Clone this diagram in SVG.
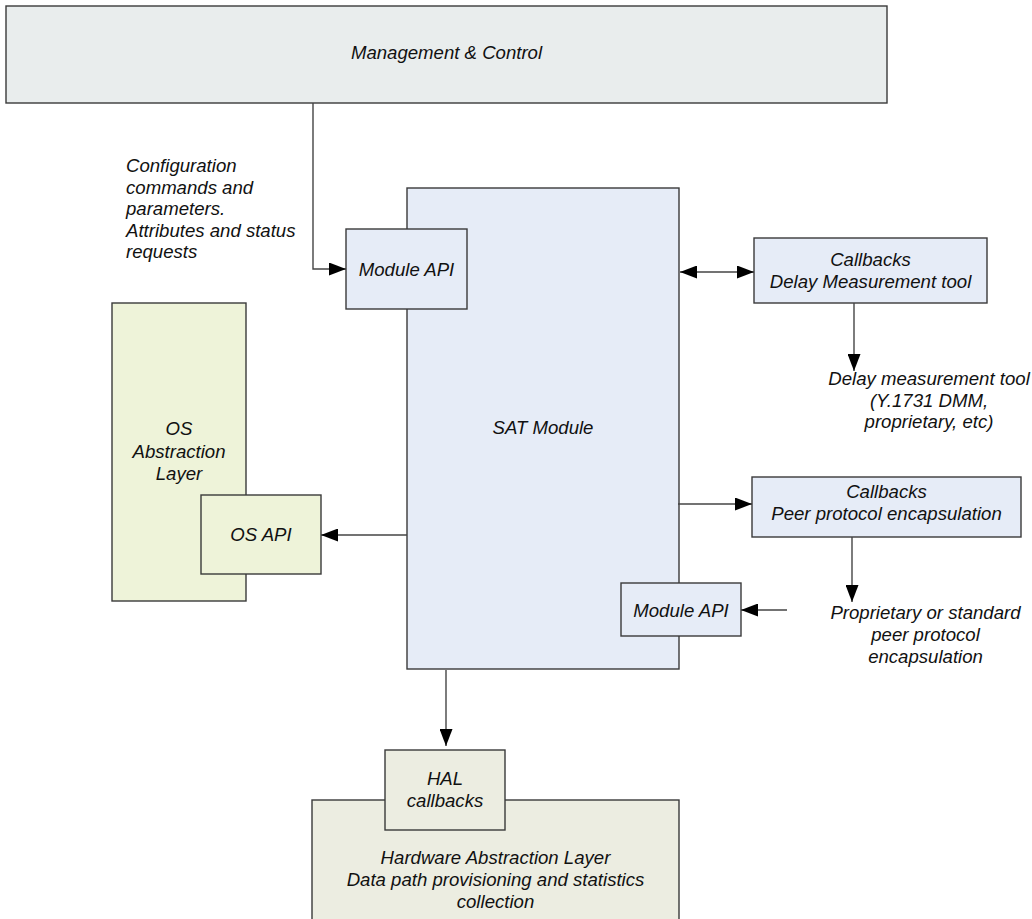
<svg xmlns="http://www.w3.org/2000/svg" width="1032" height="919" viewBox="0 0 1032 919">
<defs>
<marker id="arr" markerUnits="userSpaceOnUse" markerWidth="17" markerHeight="13" refX="17" refY="6.5" orient="auto-start-reverse" viewBox="0 0 17 13">
<path d="M0,0 L17,6.5 L0,13 z" fill="#000"/>
</marker>
</defs>
<style>
.box{stroke:#3a3a3a;stroke-width:1.4}
.mgmt{fill:#e9eded}
.blue{fill:#e6ecf7}
.green{fill:#eef3d9}
.hal{fill:#ecede1}
text{font-family:"Liberation Sans",Arial,sans-serif;font-style:italic;font-size:18.6px;fill:#111}
.c{text-anchor:middle}
.conn{fill:none;stroke:#454545;stroke-width:1.4}
</style>
<rect width="1032" height="919" fill="#fff"/>
<g id="management">
<rect class="box mgmt" x="6" y="6" width="881" height="97"/>
<text class="c" x="446.5" y="59">Management &amp; Control</text>
</g>
<g id="config-label">
<text x="126" y="172">Configuration</text>
<text x="126" y="193.6">commands and</text>
<text x="126" y="215.2">parameters.</text>
<text x="126" y="236.8">Attributes and status</text>
<text x="126" y="258.4">requests</text>
</g>
<g id="sat-module">
<rect class="box blue" x="407" y="188" width="272" height="481"/>
<text class="c" x="543" y="434">SAT Module</text>
</g>
<g id="module-api-top">
<rect class="box blue" x="346" y="229" width="121" height="80"/>
<text class="c" x="406.5" y="275.5">Module API</text>
</g>
<g id="module-api-bottom">
<rect class="box blue" x="621" y="583" width="120" height="53"/>
<text class="c" x="681" y="617">Module API</text>
</g>
<g id="os-abstraction">
<rect class="box green" x="112" y="303" width="134" height="298"/>
<text class="c" x="179" y="435">OS</text>
<text class="c" x="179" y="458">Abstraction</text>
<text class="c" x="179" y="480">Layer</text>
</g>
<g id="os-api">
<rect class="box green" x="201" y="495" width="120" height="79"/>
<text class="c" x="261" y="541">OS API</text>
</g>
<g id="callbacks-delay">
<rect class="box blue" x="754" y="238" width="233" height="65"/>
<text class="c" x="870.5" y="266">Callbacks</text>
<text class="c" x="870.5" y="288">Delay Measurement tool</text>
</g>
<g id="delay-tool-label">
<text class="c" x="929" y="385">Delay measurement tool</text>
<text class="c" x="929" y="406.5">(Y.1731 DMM,</text>
<text class="c" x="929" y="428">proprietary, etc)</text>
</g>
<g id="callbacks-peer">
<rect class="box blue" x="752" y="477" width="269" height="60"/>
<text class="c" x="886.5" y="498">Callbacks</text>
<text class="c" x="886.5" y="520">Peer protocol encapsulation</text>
</g>
<g id="peer-label">
<text class="c" x="925.5" y="619">Proprietary or standard</text>
<text class="c" x="925.5" y="641">peer protocol</text>
<text class="c" x="925.5" y="663">encapsulation</text>
</g>
<g id="hal-layer">
<rect class="box hal" x="312" y="800" width="367" height="130"/>
<text class="c" x="495.5" y="864">Hardware Abstraction Layer</text>
<text class="c" x="495.5" y="886">Data path provisioning and statistics</text>
<text class="c" x="495.5" y="908">collection</text>
</g>
<g id="hal-callbacks">
<rect class="box hal" x="385" y="750" width="120" height="80"/>
<text class="c" x="445" y="785">HAL</text>
<text class="c" x="445" y="807">callbacks</text>
</g>
<g id="connectors">
<path class="conn" d="M313,103 V269 H346" marker-end="url(#arr)"/>
<path class="conn" d="M680,272 H754" marker-start="url(#arr)" marker-end="url(#arr)"/>
<path class="conn" d="M854,303 V371" marker-end="url(#arr)"/>
<path class="conn" d="M678,504 H752" marker-end="url(#arr)"/>
<path class="conn" d="M852,537 V602" marker-end="url(#arr)"/>
<path class="conn" d="M787,610 H741" marker-end="url(#arr)"/>
<path class="conn" d="M407,535 H321" marker-end="url(#arr)"/>
<path class="conn" d="M446,670 V746" marker-end="url(#arr)"/>
</g>
</svg>
